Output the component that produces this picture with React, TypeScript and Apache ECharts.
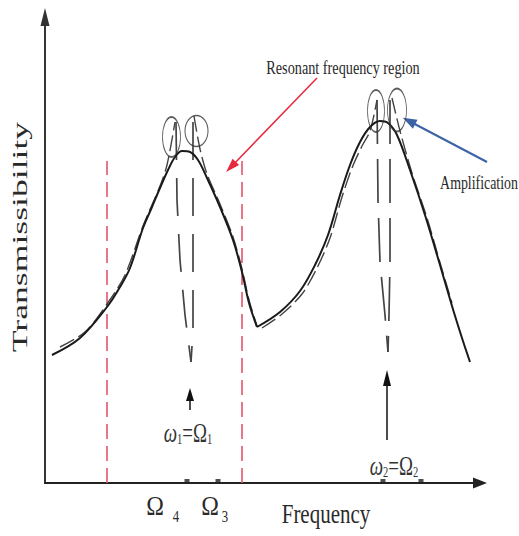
import React, { useEffect, useRef } from "react";
import * as echarts from "echarts";

// ---- data (x: frequency position, y: transmissibility, axis units) ----
const solidPeak1 = [[7,128],[35,145],[62,176],[75,196],[85,215],[98,255],[107,276],[115,295],[123,313],[130,326],[137,332],[145,331],[153,323],[162,305],[175,276],[188,243],[197,211],[204,180],[212,156]];
const solidPeak2 = [[212,156],[235,171],[255,192],[270,218],[283,248],[295,288],[305,318],[315,341],[325,356],[335,362],[343,360],[352,348],[365,313],[380,268],[395,218],[407,177],[417,145],[425,121]];

const dashRise1 = [[15,136],[40,151],[62,179],[80,208],[98,257],[115,297],[122,318],[130,361]];
const dashDipL1 = [[131,361],[132,283],[135,223],[140,168],[146,121]];
const dashDipR1 = [[148,361],[148,223],[148,153],[146,121]];
const dashFall1 = [[149,367],[155,334],[162,309],[175,279],[188,246],[197,214],[204,183],[212,157]];
const dashRise2 = [[217,155],[237,169],[257,189],[272,215],[285,245],[297,286],[307,315],[317,337],[325,352],[332,383]];
const dashDipL2 = [[332,383],[333,283],[335,221],[340,168],[343,131]];
const dashDipR2 = [[345,383],[345,221],[344,168],[343,131]];
const dashFall2 = [[347,385],[355,352],[367,310],[382,265],[396,217],[407,180]];

const regionBoundsX = [62, 197];
const regionTopY = 322;
const ellipseCenters = [[126.5,346],[151.5,352],[331,372],[352,373]];
const tickX = [142, 173, 338, 376];
const redArrow = [[272,405],[186,316]];
const blueArrow = [[442,321],[364,362]];
const upArrow1 = [[145,73],[145,88.5]];
const upArrow2 = [[342,43],[342,105]];

const axisTitles = ["Transmissibility", "Frequency"];
const noteTexts = ["Resonant frequency region", "Amplification"];
const omegaTicks = ["4", "3"];

const FONT = "'Liberation Serif', 'Times New Roman', serif";
const ELLIPSE = "path://M0,50 A50,50 0 1,1 100,50 A50,50 0 1,1 0,50 Z";
const ellipseSizes = [[18,40],[23,31],[17,42],[19,43]];

function txt(text: string, x: number, y: number, fontSize: number, scaleX: number, extra: any = {}) {
  return {
    type: "text", x, y, scaleX, z: 100,
    style: { text, fontSize, fontFamily: FONT, fill: "#2a2a2a", align: "center", verticalAlign: "middle", ...extra },
  };
}

function lineS(data: number[][], color: string, width: number, type: any, smooth: any) {
  return {
    type: "line", data, smooth, showSymbol: false, symbol: "none",
    lineStyle: { color, width, type }, z: 3,
  };
}

function arrowS(coords: number[][], color: string, width: number, size: number[]) {
  return {
    type: "lines", coordinateSystem: "cartesian2d", clip: false, z: 5,
    symbol: ["none", "triangle"], symbolSize: [1, size],
    lineStyle: { color, width, opacity: 1, curveness: 0 },
    data: [{ coords }],
  };
}

export default function App() {
  const ref = useRef<HTMLDivElement>(null);
  useEffect(() => {
    if (!ref.current) return;
    const chart = echarts.init(ref.current, null, { renderer: "svg" });
    const rich = {
      w: { fontSize: 27, fontStyle: "italic", fontFamily: FONT, fill: "#333" },
      m: { fontSize: 27, fontFamily: FONT, fill: "#333" },
      s: { fontSize: 15, fontFamily: FONT, fill: "#333", verticalAlign: "bottom" },
    };
    const option: any = {
      animation: false,
      backgroundColor: "#ffffff",
      grid: { left: 45, right: 39, top: 17, bottom: 53 },
      xAxis: {
        type: "value", min: 0, max: 435,
        axisLine: { show: true, onZero: false, symbol: ["none", "triangle"], symbolSize: [11, 14], lineStyle: { color: "#222", width: 2 } },
        axisTick: { show: false }, axisLabel: { show: false }, splitLine: { show: false },
      },
      yAxis: {
        type: "value", min: 0, max: 466,
        axisLine: { show: true, onZero: false, symbol: ["none", "triangle"], symbolSize: [9, 18], lineStyle: { color: "#333", width: 2 } },
        axisTick: { show: false }, axisLabel: { show: false }, splitLine: { show: false },
      },
      series: [
        lineS(dashRise1, "#444", 1.4, [16, 5], 0.3),
        lineS(dashDipL1, "#444", 1.7, [38, 18], false),
        lineS(dashDipR1, "#444", 1.7, [38, 18], false),
        lineS(dashFall1, "#444", 1.4, [16, 5], 0.3),
        lineS(dashRise2, "#444", 1.4, [16, 5], 0.3),
        lineS(dashDipL2, "#444", 1.7, [44, 15], false),
        lineS(dashDipR2, "#444", 1.7, [44, 15], false),
        lineS(dashFall2, "#444", 1.4, [16, 5], 0.3),
        lineS(solidPeak1, "#1a1a1a", 2, "solid", 0.35),
        lineS(solidPeak2, "#1a1a1a", 2, "solid", 0.35),
        {
          type: "lines", coordinateSystem: "cartesian2d", clip: false, z: 2,
          symbol: "none",
          lineStyle: { color: "#e2566c", width: 1.6, type: [15, 7], opacity: 1 },
          data: regionBoundsX.map((x) => ({ coords: [[x, 0], [x, regionTopY]] })),
        },
        arrowS(redArrow, "#e8283c", 1.5, [9, 14]),
        arrowS(blueArrow, "#3b63a6", 2, [10, 14]),
        arrowS(upArrow1, "#111", 1.5, [8, 13]),
        arrowS(upArrow2, "#111", 1.5, [8, 16]),
        {
          type: "scatter", z: 6, clip: false,
          symbol: ELLIPSE,
          itemStyle: { color: "rgba(0,0,0,0)", borderColor: "#333", borderWidth: 1.2 },
          data: ellipseCenters.map((c, i) => ({ value: c, symbolSize: ellipseSizes[i] })),
        },
        {
          type: "scatter", z: 6, clip: false, symbol: "rect", symbolSize: [5, 3],
          itemStyle: { color: "#222" },
          data: tickX.map((x) => [x, 2.5]),
        },
      ],
      graphic: [
        { ...txt(axisTitles[0], 20, 237, 22, 1.62), rotation: Math.PI / 2 },
        txt(axisTitles[1], 326, 513, 28, 0.75),
        txt(noteTexts[0], 343, 68, 19, 0.75),
        txt(noteTexts[1], 479, 183, 19, 0.73),
        txt("Ω", 155, 506, 28, 0.85),
        txt(omegaTicks[0], 176, 516, 16, 0.8),
        txt("Ω", 210, 506, 28, 0.85),
        txt(omegaTicks[1], 225, 516, 16, 0.8),
        txt("{w|ω}{s|1}{m|=Ω}{s|1}", 188, 433, 27, 0.7, { rich }),
        txt("{w|ω}{s|2}{m|=Ω}{s|2}", 394, 466, 27, 0.7, { rich }),
      ],
    };
    chart.setOption(option);
    return () => chart.dispose();
  }, []);
  return <div ref={ref} style={{ width: 519, height: 536, position: "absolute", left: 0, top: 0 }} />;
}
